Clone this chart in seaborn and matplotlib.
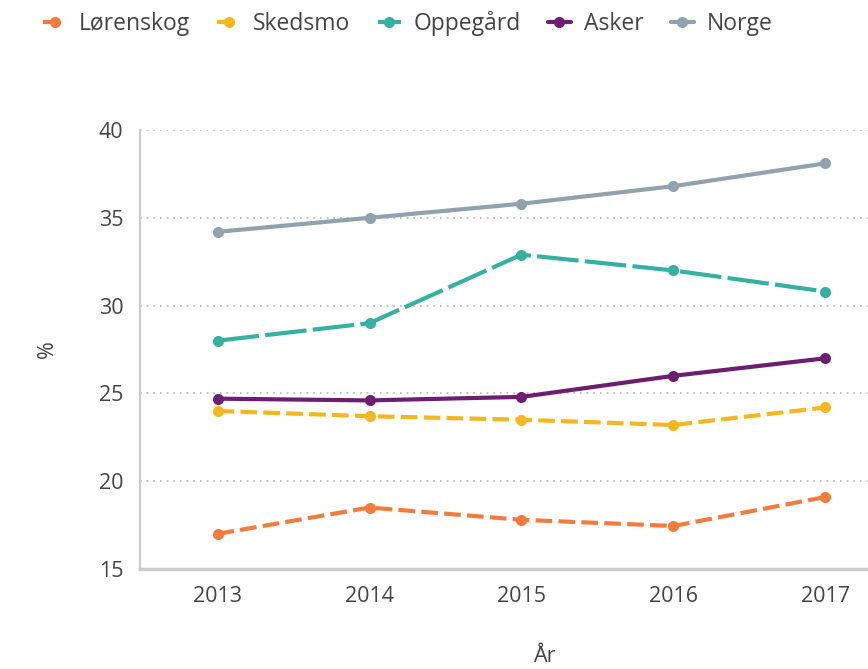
import pandas as pd
import matplotlib
matplotlib.use("Agg")
import matplotlib.pyplot as plt
import seaborn as sns

# -----------------------------
# Data
# -----------------------------
years = [2013, 2014, 2015, 2016, 2017]
lorenskog = [17.0, 18.5, 17.8, 17.45, 19.1]
skedsmo = [24.0, 23.7, 23.5, 23.2, 24.2]
oppegard = [28.0, 29.0, 32.9, 32.0, 30.8]
asker = [24.7, 24.6, 24.8, 26.0, 27.0]
norge = [34.2, 35.0, 35.8, 36.8, 38.1]

names = ["Lørenskog", "Skedsmo", "Oppegård", "Asker", "Norge"]
values = [lorenskog, skedsmo, oppegard, asker, norge]

df = pd.DataFrame({
    "År": years * len(names),
    "%": [v for vals in values for v in vals],
    "Kommune": [n for n in names for _ in years],
})

colors = ["#f47b3c", "#f4b81e", "#35b1a2", "#6d1f6f", "#8fa2ad"]
dashes = [(4, 1.5), (4, 1.5), (10, 1.5), "", ""]

# Style
sns.set_style("white")
plt.rcParams["font.family"] = ["Open Sans", "DejaVu Sans"]
text_color = "#444444"

fig = plt.figure(figsize=(8.68, 6.69), dpi=100)
ax = fig.add_axes([0.1613, 0.1495, 0.8387, 0.6562])

for name, col, ds in zip(names, colors, dashes):
    sub = df[df["Kommune"] == name]
    sns.lineplot(data=sub, x="År", y="%", ax=ax, color=col,
                 marker="o", markersize=8, markeredgewidth=0,
                 linewidth=3, label=name)
    if ds:
        ax.lines[-1].set_dashes(ds)

ax.set_xlim(2012.49, 2017.28)
ax.set_ylim(15, 40)
ax.set_xticks(years)
ax.set_yticks([15, 20, 25, 30, 35, 40])
ax.tick_params(axis="both", labelsize=15.5, colors=text_color, length=0, pad=12)
ax.yaxis.grid(True, linestyle=(0, (1, 3)), color="#b5b5b5", linewidth=1.2)
ax.xaxis.grid(False)

for s in ["top", "right"]:
    ax.spines[s].set_visible(False)
ax.spines["left"].set_color("#cccccc")
ax.spines["left"].set_linewidth(1.5)
ax.spines["bottom"].set_color("#cccccc")
ax.spines["bottom"].set_linewidth(2.5)

ax.set_xlabel("År", fontsize=15.5, color=text_color)
ax.set_ylabel("%", fontsize=15.5, color=text_color)
ax.xaxis.set_label_coords(0.556, -0.175)
ax.yaxis.set_label_coords(-0.113, 0.5)

handles, labels = ax.get_legend_handles_labels()
ax.get_legend().remove()
fig.legend(handles, labels, loc="upper left", bbox_to_anchor=(0.026, 1.014),
           ncol=5, frameon=False, fontsize=16.5, handlelength=1.0,
           columnspacing=1.2, handletextpad=0.55, labelcolor=text_color)

plt.savefig("out.png", dpi=100)
plt.close()
